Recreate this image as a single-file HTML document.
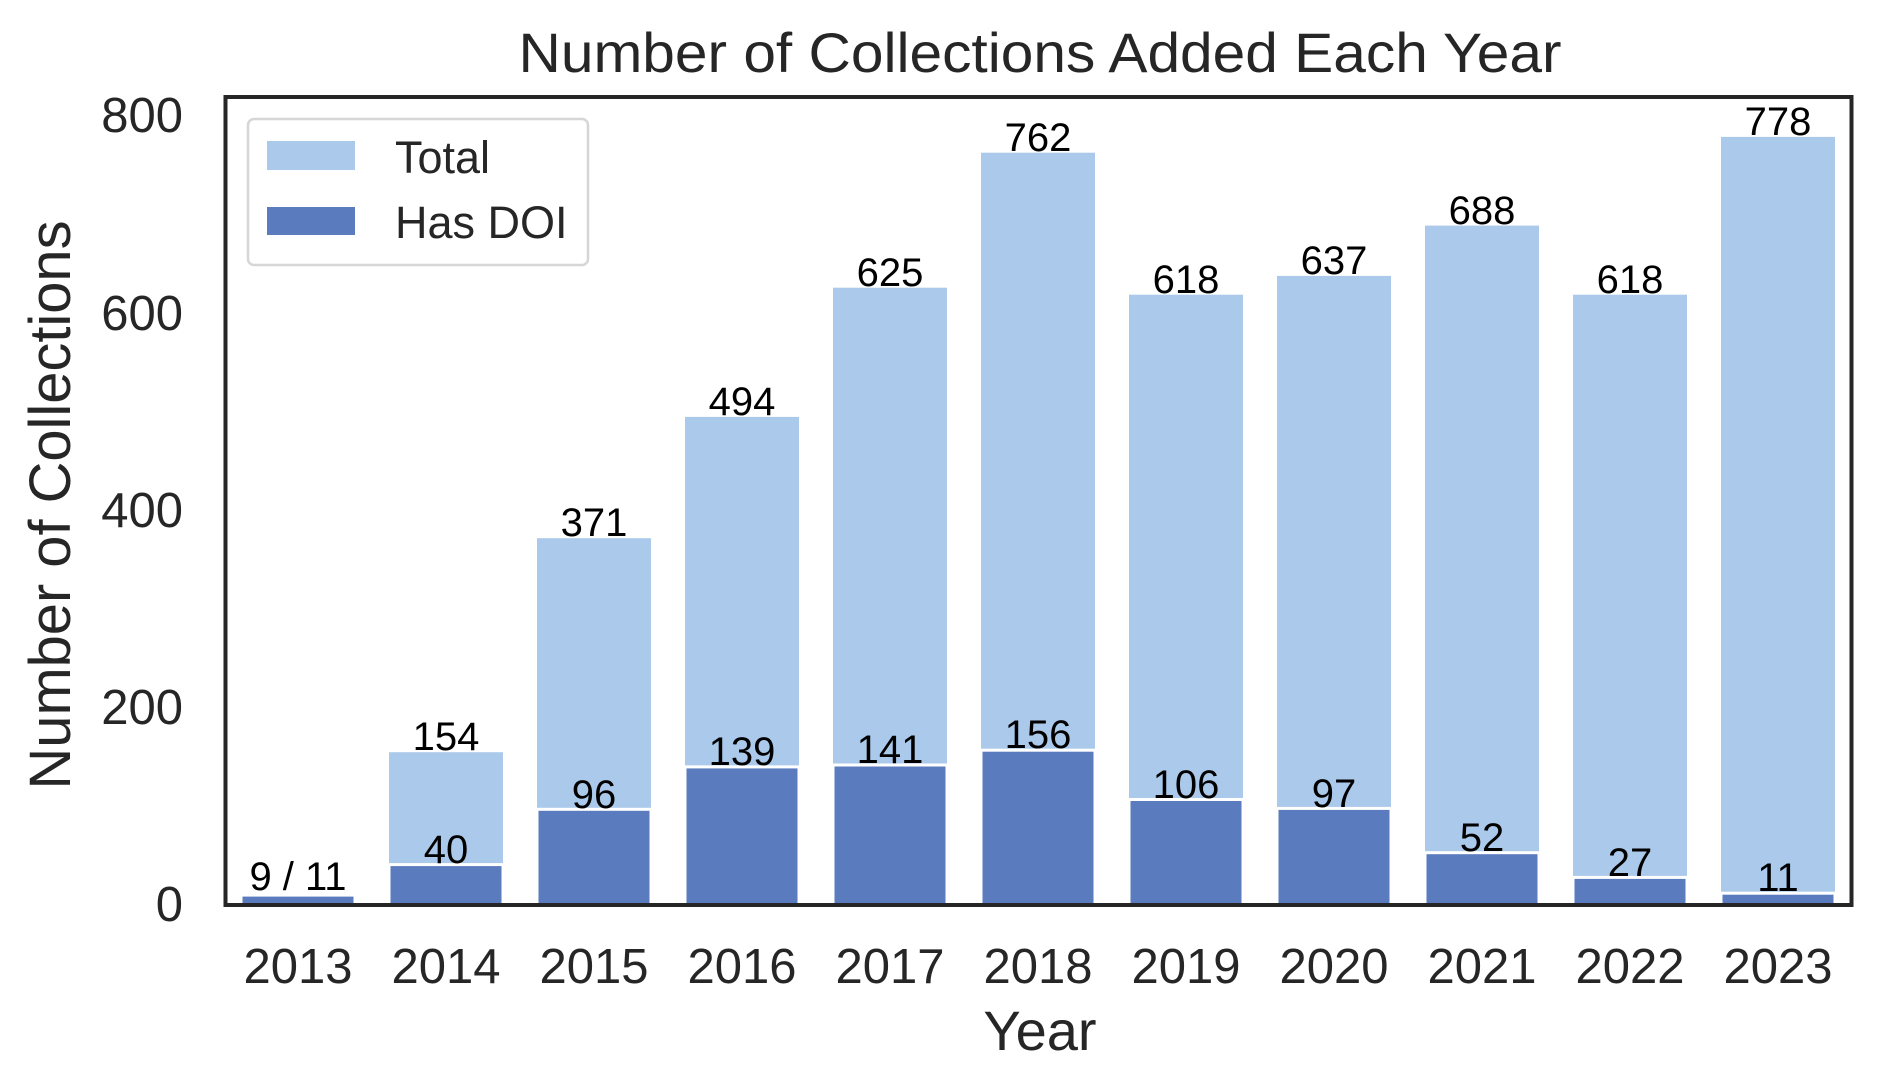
<!DOCTYPE html>
<html><head><meta charset="utf-8"><style>
html,body{margin:0;padding:0;background:#fff;}
svg{display:block;font-family:"Liberation Sans",Arial,sans-serif;}
</style></head><body>
<svg width="1881" height="1091" viewBox="0 0 1881 1091" xmlns="http://www.w3.org/2000/svg">
<rect width="1881" height="1091" fill="#fff"/>
<text x="1040" y="72" font-size="56" fill="#262626" text-anchor="middle" textLength="1043" lengthAdjust="spacingAndGlyphs">Number of Collections Added Each Year</text>
<g fill="#abc9ea">
<rect x="389" y="752.2" width="114" height="151.8"/>
<rect x="537" y="538.2" width="114" height="365.8"/>
<rect x="685" y="416.9" width="114" height="487.1"/>
<rect x="833" y="287.7" width="114" height="616.3"/>
<rect x="981" y="152.7" width="114" height="751.3"/>
<rect x="1129" y="294.7" width="114" height="609.3"/>
<rect x="1277" y="275.9" width="114" height="628.1"/>
<rect x="1425" y="225.6" width="114" height="678.4"/>
<rect x="1573" y="294.7" width="114" height="609.3"/>
<rect x="1721" y="136.9" width="114" height="767.1"/>
</g>
<g fill="#5a7bbe" stroke="#fff" stroke-width="3">
<rect x="241" y="895.1" width="114" height="10"/>
<rect x="389" y="864.6" width="114" height="41"/>
<rect x="537" y="809.3" width="114" height="96"/>
<rect x="685" y="766.9" width="114" height="139"/>
<rect x="833" y="765.0" width="114" height="141"/>
<rect x="981" y="750.2" width="114" height="156"/>
<rect x="1129" y="799.5" width="114" height="106"/>
<rect x="1277" y="808.4" width="114" height="97"/>
<rect x="1425" y="852.7" width="114" height="53"/>
<rect x="1573" y="877.4" width="114" height="28"/>
<rect x="1721" y="893.2" width="114" height="12"/>
</g>
<g font-size="40" fill="#000" text-anchor="middle">
<text x="446" y="750">154</text>
<text x="594" y="536">371</text>
<text x="742" y="415">494</text>
<text x="890" y="286">625</text>
<text x="1038" y="151">762</text>
<text x="1186" y="293">618</text>
<text x="1334" y="274">637</text>
<text x="1482" y="224">688</text>
<text x="1630" y="293">618</text>
<text x="1778" y="135">778</text>
<text x="298" y="890">9 / 11</text>
<text x="446" y="863">40</text>
<text x="594" y="808">96</text>
<text x="742" y="765">139</text>
<text x="890" y="763">141</text>
<text x="1038" y="748">156</text>
<text x="1186" y="798">106</text>
<text x="1334" y="807">97</text>
<text x="1482" y="851">52</text>
<text x="1630" y="876">27</text>
<text x="1778" y="891">11</text>
</g>
<rect x="225.5" y="97" width="1626" height="808" fill="none" stroke="#262626" stroke-width="4"/>
<g font-size="49" fill="#262626" text-anchor="end">
<text x="183" y="921">0</text>
<text x="183" y="724">200</text>
<text x="183" y="527">400</text>
<text x="183" y="330">600</text>
<text x="183" y="132">800</text>
</g>
<g font-size="49" fill="#262626" text-anchor="middle">
<text x="298" y="983">2013</text>
<text x="446" y="983">2014</text>
<text x="594" y="983">2015</text>
<text x="742" y="983">2016</text>
<text x="890" y="983">2017</text>
<text x="1038" y="983">2018</text>
<text x="1186" y="983">2019</text>
<text x="1334" y="983">2020</text>
<text x="1482" y="983">2021</text>
<text x="1630" y="983">2022</text>
<text x="1778" y="983">2023</text>
</g>
<text x="1040" y="1050" font-size="56" fill="#262626" text-anchor="middle">Year</text>
<text transform="translate(70,505) rotate(-90)" font-size="58" fill="#262626" text-anchor="middle" textLength="569" lengthAdjust="spacingAndGlyphs">Number of Collections</text>
<rect x="248" y="119" width="340" height="146" rx="6" fill="#fff" stroke="#d6d6d6" stroke-width="2.5"/>
<rect x="267" y="141" width="88" height="29" fill="#abc9ea"/>
<rect x="267" y="207" width="88" height="28" fill="#5a7bbe"/>
<text x="395" y="173" font-size="45" fill="#262626">Total</text>
<text x="395" y="238" font-size="45" fill="#262626">Has DOI</text>
</svg>
</body></html>
